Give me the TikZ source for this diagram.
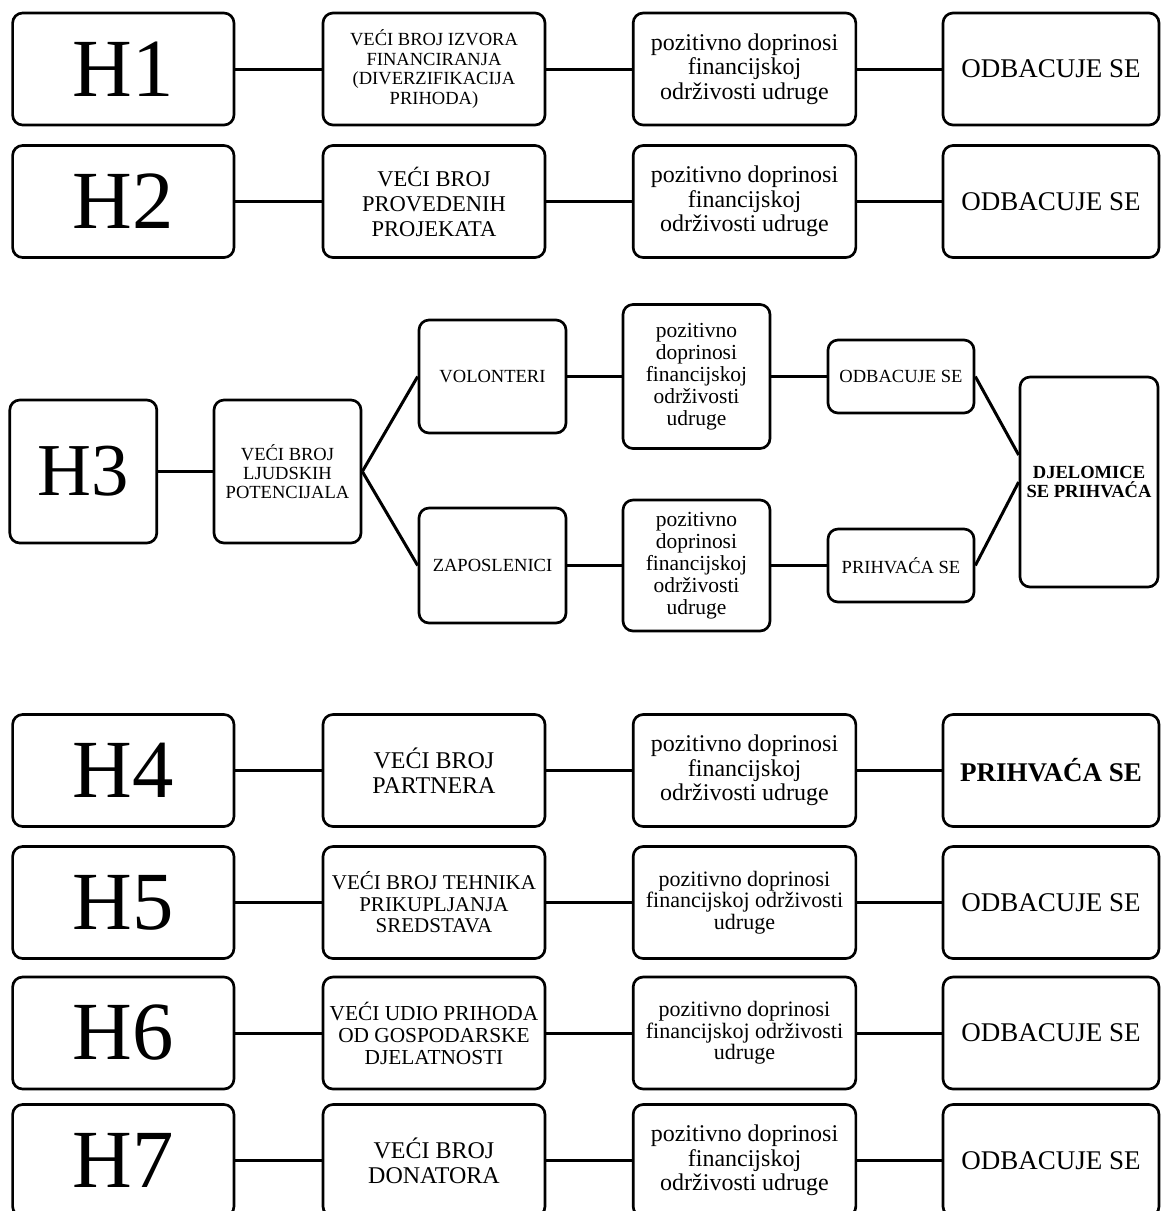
\documentclass[tikz,border=0pt]{standalone}
\usepackage{fontspec}
\setmainfont{Liberation Serif}
\usepackage{tikz}
\newcommand{\setfs}[2]{\fontsize{#1}{#2}\selectfont}
\tikzset{
  rbox/.style={draw, line width=2pt, rounded corners=7.5pt, align=center, inner sep=0pt},
  hbox/.style={rbox, minimum width=166pt, minimum height=84pt, font=\setfs{62pt}{68pt}},
  wbox/.style={rbox, minimum width=166.5pt, minimum height=84pt},
  pbox/.style={rbox, minimum width=167pt, minimum height=84pt},
  obox/.style={rbox, minimum width=162pt, minimum height=84pt, font=\setfs{20.25pt}{22pt}},
  sbox/.style={rbox, minimum width=110.25pt, font=\setfs{13.9pt}{14.25pt}},
  link/.style={line width=2.25pt}
}

\begin{document}
\begin{tikzpicture}[x=0.75pt,y=0.75pt,yscale=-1,xscale=1]
\useasboundingbox (0,0) rectangle (1161,1211);

% Row H1
\draw (123.3,69) node (h1) [hbox] {H1};
\draw (434,69) node (w1) [wbox, font=\setfs{13.9pt}{14.6pt}] {VEĆI BROJ IZVORA\\FINANCIRANJA\\(DIVERZIFIKACIJA\\PRIHODA)};
\draw (744.5,69) node (p1) [pbox, font=\setfs{18pt}{18.4pt}] {pozitivno doprinosi\\financijskoj\\održivosti udruge};
\draw (1051,69) node (o1) [obox] {ODBACUJE SE};
%Straight Lines
\draw [link] (h1) -- (w1) (w1) -- (p1) (p1) -- (o1);

% Row H2
\draw (123.3,201.5) node (h2) [hbox] {H2};
\draw (434,201.5) node (w2) [wbox, font=\setfs{16.9pt}{18.75pt}] {VEĆI BROJ\\PROVEDENIH\\PROJEKATA};
\draw (744.5,201.5) node (p2) [pbox, font=\setfs{18pt}{18.4pt}] {pozitivno doprinosi\\financijskoj\\održivosti udruge};
\draw (1051,201.5) node (o2) [obox] {ODBACUJE SE};
%Straight Lines
\draw [link] (h2) -- (w2) (w2) -- (p2) (p2) -- (o2);

% Branch H3
\draw (83.3,471.5) node (h3) [rbox, minimum width=110.25pt, minimum height=107.25pt, font=\setfs{56pt}{60pt}] {H3};
\draw (287.5,471.5) node (ljud) [sbox, minimum height=107.25pt] {VEĆI BROJ\\LJUDSKIH\\POTENCIJALA};
\draw (492.5,376.5) node (vol) [sbox, minimum height=84.75pt] {VOLONTERI};
\draw (492.5,565.5) node (zap) [sbox, minimum height=86.25pt] {ZAPOSLENICI};
\draw (696.5,376.5) node (poz3a) [sbox, minimum height=108pt, font=\setfs{16.1pt}{16.5pt}] {pozitivno\\doprinosi\\financijskoj\\održivosti\\udruge};
\draw (696.5,565.5) node (poz3b) [sbox, minimum height=98.25pt, font=\setfs{16.1pt}{16.5pt}] {pozitivno\\doprinosi\\financijskoj\\održivosti\\udruge};
\draw (901,376.5) node (odb3) [sbox, minimum width=109.5pt, minimum height=54.75pt] {ODBACUJE SE};
\draw (901,565.5) node (pri3) [sbox, minimum width=109.5pt, minimum height=54.75pt] {PRIHVAĆA SE};
\draw (1089,482) node (djel) [sbox, minimum width=103.5pt, minimum height=157.5pt, font=\setfs{13.9pt}{13.75pt}\bfseries] {DJELOMICE\\SE PRIHVAĆA};
%Straight Lines
\draw [link] (h3) -- (ljud);
\draw [link] (ljud.east) -- (vol.west);
\draw [link] (ljud.east) -- (zap.west);
\draw [link] (vol) -- (poz3a) (poz3a) -- (odb3);
\draw [link] (zap) -- (poz3b) (poz3b) -- (pri3);
\draw [link] (odb3.east) -- ([yshift=-20.25pt]djel.west);
\draw [link] (pri3.east) -- (djel.west);

% Row H4
\draw (123.3,770.5) node (h4) [hbox] {H4};
\draw (434,770.5) node (w4) [wbox, font=\setfs{18pt}{18.75pt}] {VEĆI BROJ\\PARTNERA};
\draw (744.5,770.5) node (p4) [pbox, font=\setfs{18pt}{18.4pt}] {pozitivno doprinosi\\financijskoj\\održivosti udruge};
\draw (1051,770.5) node (o4) [obox, font=\setfs{20.25pt}{22pt}\bfseries] {PRIHVAĆA SE};
%Straight Lines
\draw [link] (h4) -- (w4) (w4) -- (p4) (p4) -- (o4);

% Row H5
\draw (123.3,902.5) node (h5) [hbox] {H5};
\draw (434,902.5) node (w5) [wbox, font=\setfs{15.75pt}{16.1pt}] {VEĆI BROJ TEHNIKA\\PRIKUPLJANJA\\SREDSTAVA};
\draw (744.5,902.5) node (p5) [pbox, font=\setfs{16.5pt}{16.1pt}] {pozitivno doprinosi\\financijskoj održivosti\\udruge};
\draw (1051,902.5) node (o5) [obox] {ODBACUJE SE};
%Straight Lines
\draw [link] (h5) -- (w5) (w5) -- (p5) (p5) -- (o5);

% Row H6
\draw (123.3,1033) node (h6) [hbox] {H6};
\draw (434,1033) node (w6) [wbox, font=\setfs{16pt}{16.5pt}] {VEĆI UDIO PRIHODA\\OD GOSPODARSKE\\DJELATNOSTI};
\draw (744.5,1033) node (p6) [pbox, font=\setfs{16.5pt}{16.1pt}] {pozitivno doprinosi\\financijskoj održivosti\\udruge};
\draw (1051,1033) node (o6) [obox] {ODBACUJE SE};
%Straight Lines
\draw [link] (h6) -- (w6) (w6) -- (p6) (p6) -- (o6);

% Row H7
\draw (123.3,1160.5) node (h7) [hbox] {H7};
\draw (434,1160.5) node (w7) [wbox, font=\setfs{18pt}{18.75pt}] {VEĆI BROJ\\DONATORA};
\draw (744.5,1160.5) node (p7) [pbox, font=\setfs{18pt}{18.4pt}] {pozitivno doprinosi\\financijskoj\\održivosti udruge};
\draw (1051,1160.5) node (o7) [obox] {ODBACUJE SE};
%Straight Lines
\draw [link] (h7) -- (w7) (w7) -- (p7) (p7) -- (o7);

\end{tikzpicture}
\end{document}
